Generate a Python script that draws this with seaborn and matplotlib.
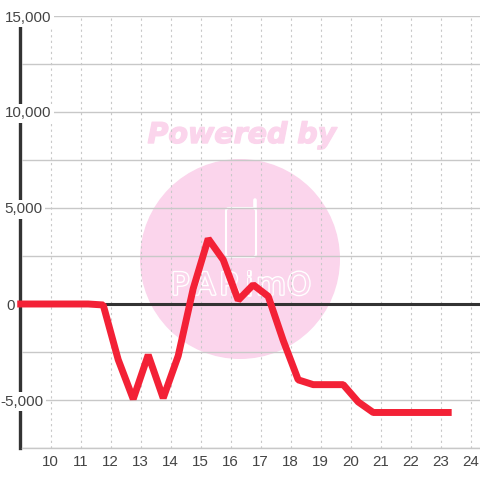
import matplotlib
matplotlib.use("Agg")
import matplotlib.pyplot as plt
import matplotlib.patheffects as pe
from matplotlib.patches import Circle, FancyBboxPatch
import pandas as pd
import seaborn as sns

hours = [9.0, 11.25, 11.75, 12.25, 12.75, 13.25, 13.75, 14.25, 14.75, 15.25, 15.75, 16.25, 16.75,
         17.25, 17.75, 18.25, 18.75, 19.25, 19.75, 20.25, 20.75, 21.25, 21.75, 22.25, 22.75, 23.25]
values = [0, 0, -50, -2900, -4950, -2650, -4900, -2700, 800, 3400, 2300, 200, 1000,
          400, -1900, -3950, -4200, -4200, -4200, -5100, -5650, -5650, -5650, -5650, -5650, -5650]
x_ticks = list(range(10, 25))
y_ticks = [-7500, -5000, -2500, 0, 2500, 5000, 7500, 10000, 12500, 15000]
y_labels = ["", "-5,000", "", "0", "", "5,000", "", "10,000", "", "15,000"]
# left edge of each y label, px from the figure edge
y_label_left = [0, 2, 0, 8, 0, 6, 0, 6, 0, 6]

sns.set_theme(style="white")
plt.rcParams['font.family'] = ['Liberation Sans', 'DejaVu Sans']

W = 480
ax_left = 22
ax_w = W - ax_left
fig = plt.figure(figsize=(4.8, 4.8), dpi=100, facecolor="white")

# watermark sits behind the chart, in pixel coordinates
bg = fig.add_axes([0, 0, 1, 1], zorder=0)
bg.set_xlim(0, W)
bg.set_ylim(W, 0)
bg.axis("off")
pink = "#fbd5ec"
bg.add_patch(Circle((240, 259), 100, fc=pink, ec="none"))
bg.text(242, 135, "Powered by", color=pink, fontsize=20.5, fontweight="bold", fontstyle="italic",
        family="DejaVu Sans", ha="center", va="center",
        path_effects=[pe.withStroke(linewidth=1.0, foreground=pink)])
bg.add_patch(FancyBboxPatch((226, 208), 30, 49, boxstyle="round,pad=0,rounding_size=3",
                            fc="none", ec="white", lw=1.5))
bg.plot([254.5, 254.5], [208, 200], color="white", lw=2.6, solid_capstyle="round")
for cx, ch in zip([180, 205, 230, 249, 271, 299], ["P", "A", "R", "i", "m", "O"]):
    bg.text(cx, 286, ch, color=pink, fontsize=22, family="DejaVu Sans", ha="center", va="center",
            path_effects=[pe.withStroke(linewidth=2.0, foreground="white")])

ax = fig.add_axes([ax_left / W, (W - 448) / W, ax_w / W, 432 / W], zorder=1)
ax.patch.set_alpha(0)
# set_position resets the ticks, so it has to come before the tick setup
ax.spines["left"].set_position(("outward", 1.1))

df = pd.DataFrame({"hour": hours, "value": values})
sns.lineplot(data=df, x="hour", y="value", ax=ax, color="#f32136", linewidth=5.0, estimator=None,
             sort=False, clip_on=False, zorder=3, solid_capstyle="projecting", solid_joinstyle="bevel")
ax.axhline(0, color="#333333", lw=2.2, zorder=2)

ax.set_xlim(9.043, 24.31)
ax.set_ylim(-7500, 15000)
ax.set_xlabel("")
ax.set_ylabel("")
ax.set_xticks(x_ticks)
ax.set_yticks(y_ticks)
ax.set_yticklabels(y_labels)
ax.grid(axis="y", color="#c8c8c8", lw=1.0)
ax.grid(axis="x", color="#c8c8c8", lw=0.8, linestyle=(0, (2, 3)))
ax.tick_params(axis="both", length=0, labelsize=10.9, labelcolor="#444444")
ax.tick_params(axis="x", pad=5)
ax.tick_params(axis="y", pad=0)
for lab, left in zip(ax.get_yticklabels(), y_label_left):
    lab.set_ha("left")
    lab.set_x((left - ax_left) / ax_w)
    if lab.get_text():
        lab.set_bbox(dict(fc="white", ec="none", pad=2))

for side in ["top", "right"]:
    ax.spines[side].set_visible(False)
ax.spines["bottom"].set_color("#c8c8c8")
ax.spines["bottom"].set_linewidth(1.0)
ax.spines["left"].set_color("#333333")
ax.spines["left"].set_linewidth(2.4)
# seaborn's white style puts the axis at zorder 0.5, the labels must hide the spine
ax.spines["left"].set_zorder(0.4)

fig.savefig("out.png", dpi=100)
plt.close(fig)
